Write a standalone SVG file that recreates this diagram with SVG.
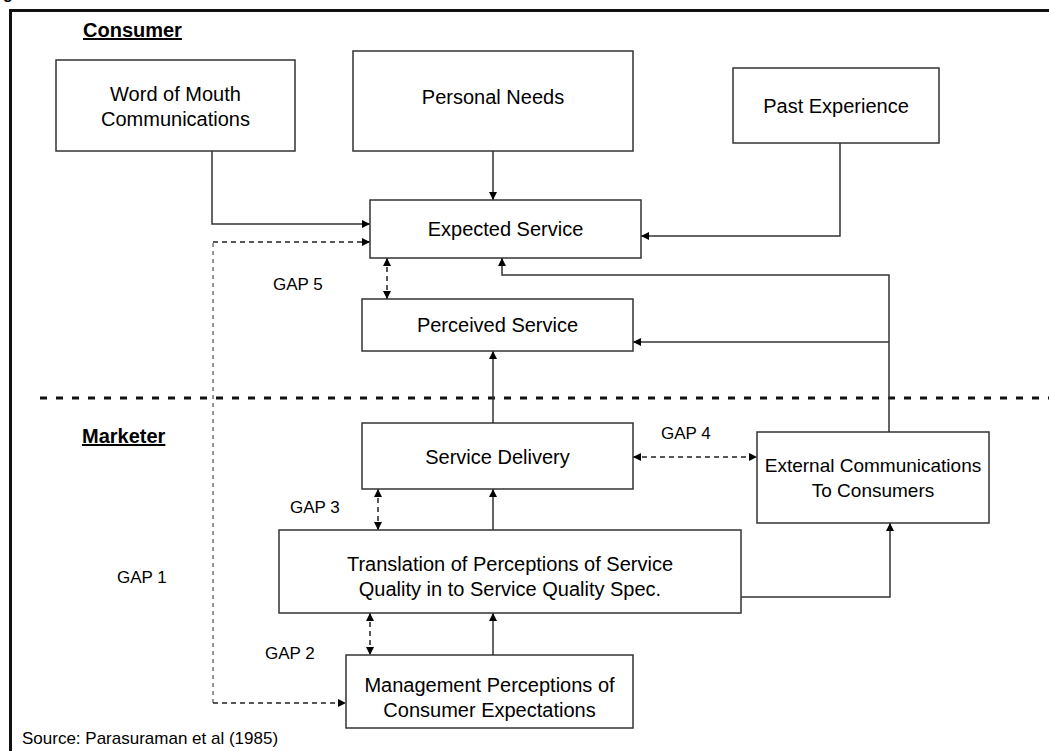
<svg xmlns="http://www.w3.org/2000/svg" width="1049" height="751" viewBox="0 0 1049 751">
<style>
text{font-family:"Liberation Sans",Arial,sans-serif;fill:#000}
.n{font-size:20px;text-anchor:middle}
.s{font-size:19px}
.g{font-size:17px}
.h{font-size:20px;font-weight:bold;text-decoration:underline}
.box{fill:#fff;stroke:#333;stroke-width:1.5}
.c{fill:none;stroke:#333;stroke-width:1.5}
.d{fill:none;stroke:#222;stroke-width:1.5;stroke-dasharray:5 4}
.dg{fill:none;stroke:#777;stroke-width:1.5;stroke-dasharray:4 4}
</style>
<defs>
<marker id="a" viewBox="0 0 10 10" refX="10" refY="5" markerWidth="8" markerHeight="8" markerUnits="userSpaceOnUse" orient="auto-start-reverse"><path d="M0,0 L10,5 L0,10 z" fill="#000"/></marker>
</defs>
<rect width="1049" height="751" fill="#fff"/>
<text x="3" y="-1" style="font-family:'Liberation Sans',Arial,sans-serif;font-size:16px;font-weight:bold">g</text>
<path d="M10.5,760 V10.5 H1060" fill="none" stroke="#111" stroke-width="3"/>
<line x1="40" y1="398" x2="1049" y2="398" stroke="#111" stroke-width="3" stroke-dasharray="7 9"/>
<text class="h" x="83" y="37">Consumer</text>
<text class="h" x="82" y="443">Marketer</text>
<text x="22" y="744" class="g">Source: Parasuraman et al (1985)</text>
<g id="connectors">
<path class="c" d="M212,151 V224 H370" marker-end="url(#a)"/>
<path class="c" d="M493,151 V200" marker-end="url(#a)"/>
<path class="c" d="M840,143 V236 H641" marker-end="url(#a)"/>
<path class="c" d="M889,432 V275 H502 V258" marker-end="url(#a)"/>
<path class="c" d="M889,342 H633" marker-end="url(#a)"/>
<path class="c" d="M493,423 V351" marker-end="url(#a)"/>
<path class="c" d="M493,530 V489" marker-end="url(#a)"/>
<path class="c" d="M493,655 V613" marker-end="url(#a)"/>
<path class="c" d="M741,597 H890 V523" marker-end="url(#a)"/>
<path class="dg" d="M213,703 V242"/>
<path class="d" d="M213,242 H370" marker-end="url(#a)"/>
<path class="d" d="M213,703 H346" marker-end="url(#a)"/>
<path class="d" d="M387,258 V299" marker-start="url(#a)" marker-end="url(#a)"/>
<path class="d" d="M633,457 H757" marker-start="url(#a)" marker-end="url(#a)"/>
<path class="d" d="M378,489 V530" marker-start="url(#a)" marker-end="url(#a)"/>
<path class="d" d="M370,613 V655" marker-start="url(#a)" marker-end="url(#a)"/>
</g>
<g id="gap-labels">
<text class="g" x="273" y="290">GAP 5</text>
<text class="g" x="661" y="439">GAP 4</text>
<text class="g" x="290" y="513">GAP 3</text>
<text class="g" x="117" y="583">GAP 1</text>
<text class="g" x="265" y="659">GAP 2</text>
</g>
<g id="word-of-mouth"><rect class="box" x="56" y="60" width="239" height="91"/><text class="n" x="175.5" y="101">Word of Mouth</text><text class="n" x="175.5" y="126">Communications</text></g>
<g id="personal-needs"><rect class="box" x="353" y="51" width="280" height="100"/><text class="n" x="493" y="104">Personal Needs</text></g>
<g id="past-experience"><rect class="box" x="733" y="68" width="206" height="75"/><text class="n" x="836" y="113">Past Experience</text></g>
<g id="expected-service"><rect class="box" x="370" y="200" width="271" height="58"/><text class="n" x="505.5" y="236">Expected Service</text></g>
<g id="perceived-service"><rect class="box" x="362" y="299" width="271" height="52"/><text class="n" x="497.5" y="332">Perceived Service</text></g>
<g id="service-delivery"><rect class="box" x="362" y="423" width="271" height="66"/><text class="n" x="497.5" y="464">Service Delivery</text></g>
<g id="external-communications"><rect class="box" x="757" y="432" width="232" height="91"/><text class="n s" x="873" y="472">External Communications</text><text class="n s" x="873" y="497">To Consumers</text></g>
<g id="translation"><rect class="box" x="279" y="530" width="462" height="83"/><text class="n" x="510" y="571">Translation of Perceptions of Service</text><text class="n" x="510" y="596">Quality in to Service Quality Spec.</text></g>
<g id="management-perceptions"><rect class="box" x="346" y="655" width="287" height="73"/><text class="n" x="489.5" y="692">Management Perceptions of</text><text class="n" x="489.5" y="717">Consumer Expectations</text></g>
</svg>
